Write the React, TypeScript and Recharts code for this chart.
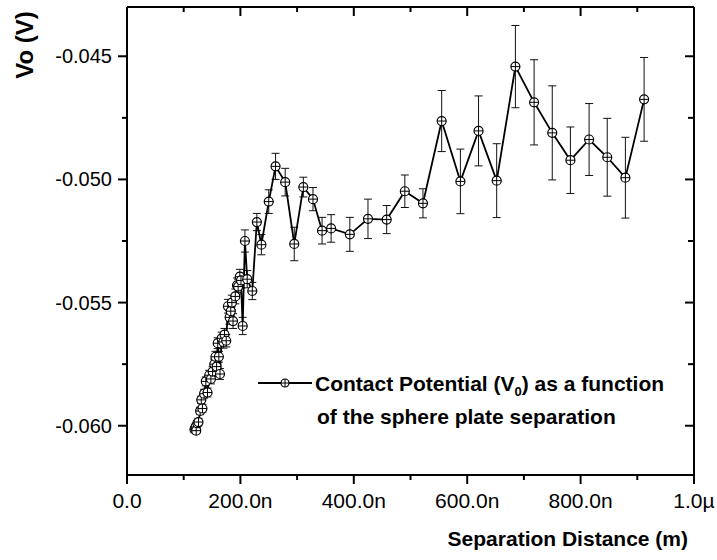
import React from 'react';
import { LineChart, Line, XAxis, YAxis, ErrorBar, Legend } from 'recharts';

// separation distance (nm), contact potential (V) and its error (V)
const separationNm = [
  119, 121, 122, 124, 126, 129, 131, 133, 136, 139, 142, 145, 148, 151, 154, 156, 158, 160, 162, 164,
  167, 170, 172, 175, 178, 181, 183, 185, 187, 191, 194, 196, 199, 201, 204, 208, 212, 221, 229, 237,
  250, 262, 279, 295, 311, 328, 344, 360, 393, 425, 458, 490, 522, 555, 588, 620, 652, 685, 718, 750,
  782, 815, 847, 879, 912,
];
const potentialV = [
  -0.06015, -0.06005, -0.0602, -0.0599, -0.05985, -0.0594, -0.05895, -0.0593, -0.0587, -0.0582,
  -0.05865, -0.05795, -0.0581, -0.0578, -0.0575, -0.0572, -0.0576, -0.05665, -0.0572, -0.0579,
  -0.05645, -0.0566, -0.0563, -0.05655, -0.05515, -0.0556, -0.05535, -0.055, -0.05575, -0.05475,
  -0.0543, -0.05435, -0.05395, -0.0541, -0.05595, -0.0525, -0.05405, -0.05453, -0.05173, -0.05265,
  -0.0509, -0.04947, -0.05011, -0.05262, -0.05031, -0.0508, -0.05208, -0.05199, -0.05223, -0.0516,
  -0.05163, -0.05048, -0.05097, -0.04763, -0.05008, -0.04803, -0.05005, -0.04542, -0.04687, -0.04811,
  -0.04922, -0.04838, -0.0491, -0.04993, -0.04675,
];
const errorV = [
  0.00012, 0.00012, 0.00012, 0.00012, 0.00015, 0.00015, 0.00015, 0.00015, 0.00018, 0.00018,
  0.00018, 0.0002, 0.0002, 0.0002, 0.0002, 0.00022, 0.00022, 0.00022, 0.00022, 0.00022,
  0.00025, 0.00025, 0.00025, 0.00025, 0.00028, 0.00028, 0.00028, 0.0003, 0.0003, 0.0003,
  0.0003, 0.0003, 0.0003, 0.0003, 0.00035, 0.00045, 0.00035, 0.00035, 0.00035, 0.00041,
  0.00048, 0.00053, 0.00056, 0.00068, 0.0004, 0.00047, 0.00054, 0.00056, 0.00069, 0.0008,
  0.00057, 0.00066, 0.00059, 0.00124, 0.00131, 0.00142, 0.0015, 0.00167, 0.00173, 0.00191,
  0.00135, 0.00146, 0.00158, 0.00164, 0.0017,
];

const xTicks = [0, 100, 200, 300, 400, 500, 600, 700, 800, 900, 1000];
const xTickLabels = ['0.0', '', '200.0n', '', '400.0n', '', '600.0n', '', '800.0n', '', '1.0\u00b5'];
const yTicks = [-0.06, -0.0575, -0.055, -0.0525, -0.05, -0.0475, -0.045];
const yTickLabels = ['-0.060', '', '-0.055', '', '-0.050', '', '-0.045'];

const data = separationNm.map((x, i) => ({ x, v: potentialV[i], err: errorV[i] }));

const FONT = '"Liberation Sans", Arial, Helvetica, sans-serif';

const labelFor = (ticks: number[], labels: string[], v: number) => {
  const i = ticks.findIndex((t) => Math.abs(t - v) < 1e-9);
  return i >= 0 ? labels[i] : '';
};

const Marker = ({ cx, cy, r = 4.5 }: { cx: number; cy: number; r?: number }) => (
  <g>
    <circle cx={cx} cy={cy} r={r} fill="#fff" stroke="#000" strokeWidth={1.2} />
    <line x1={cx - r} y1={cy} x2={cx + r} y2={cy} stroke="#000" strokeWidth={1} />
    <line x1={cx} y1={cy - r} x2={cx} y2={cy + r} stroke="#000" strokeWidth={1} />
  </g>
);

const BottomTick = ({ x, y, payload }: any) => {
  const label = labelFor(xTicks, xTickLabels, payload.value);
  return (
    <g>
      <line x1={x} y1={y} x2={x} y2={y + (label ? 9 : 5)} stroke="#000" strokeWidth={2} />
      {label && (
        <text x={x} y={y + 33} textAnchor="middle" fontSize={21} fontFamily={FONT} fill="#000">
          {label}
        </text>
      )}
    </g>
  );
};

const TopTick = ({ x, y, payload }: any) => {
  const major = labelFor(xTicks, xTickLabels, payload.value) !== '';
  return <line x1={x} y1={y} x2={x} y2={y + (major ? 9 : 5)} stroke="#000" strokeWidth={2} />;
};

const LeftTick = ({ x, y, payload }: any) => {
  const label = labelFor(yTicks, yTickLabels, payload.value);
  return (
    <g>
      <line x1={x} y1={y} x2={x - (label ? 9 : 5)} y2={y} stroke="#000" strokeWidth={2} />
      {label && (
        <text x={x - 15} y={y} textAnchor="end" dominantBaseline="central" fontSize={20} fontFamily={FONT} fill="#000">
          {label}
        </text>
      )}
    </g>
  );
};

const RightTick = ({ x, y, payload }: any) => {
  const major = labelFor(yTicks, yTickLabels, payload.value) !== '';
  return <line x1={x} y1={y} x2={x - (major ? 9 : 6)} y2={y} stroke="#000" strokeWidth={2} />;
};

const renderDot = (props: any) => <Marker key={`dot-${props.index}`} cx={props.cx} cy={props.cy} />;

const LegendBox = () => (
  <div
    style={{
      display: 'flex',
      fontFamily: FONT,
      fontWeight: 'bold',
      fontSize: 21,
      lineHeight: '33px',
      color: '#000',
    }}
  >
    <svg width={57} height={33} style={{ flex: 'none' }}>
      <line x1={0} y1={16} x2={54} y2={16} stroke="#000" strokeWidth={1.8} />
      <Marker cx={27} cy={16} r={4} />
    </svg>
    <div style={{ whiteSpace: 'nowrap' }}>
      Contact Potential (V
      <span style={{ fontSize: 13, verticalAlign: -5, lineHeight: 0 }}>0</span>) as a function
      <br />
      <span style={{ paddingLeft: 2 }}>of the sphere plate separation</span>
    </div>
  </div>
);

const App: React.FC = () => {
  return (
    <div style={{ position: 'absolute', left: 0, top: 0 }}>
      <LineChart width={717} height={560} data={data} margin={{ top: 7, right: 23, bottom: 0, left: 0 }}>
        <XAxis
          xAxisId="bottom"
          dataKey="x"
          type="number"
          domain={[0, 1000]}
          ticks={xTicks}
          interval={0}
          height={85}
          tickSize={0}
          tickMargin={0}
          tickLine={false}
          tick={<BottomTick />}
          axisLine={{ stroke: '#000', strokeWidth: 2 }}
          label={{
            content: () => (
              <text x={688} y={546} textAnchor="end" fontSize={21} fontWeight="bold" fontFamily={FONT} fill="#000">
                Separation Distance (m)
              </text>
            ),
          }}
        />
        <XAxis
          xAxisId="top"
          dataKey="x"
          orientation="top"
          type="number"
          domain={[0, 1000]}
          allowDataOverflow
          ticks={xTicks}
          interval={0}
          mirror
          tickSize={0}
          tickMargin={0}
          tickLine={false}
          tick={<TopTick />}
          axisLine={{ stroke: '#000', strokeWidth: 2 }}
        />
        <YAxis
          yAxisId="left"
          type="number"
          domain={[-0.062, -0.043]}
          allowDataOverflow
          ticks={yTicks}
          interval={0}
          width={127}
          tickSize={0}
          tickMargin={0}
          tickLine={false}
          tick={<LeftTick />}
          axisLine={{ stroke: '#000', strokeWidth: 2 }}
          label={{
            content: () => (
              <text
                x={24}
                y={45}
                transform="rotate(-90, 24, 45)"
                textAnchor="middle"
                dominantBaseline="central"
                fontSize={24}
                fontWeight="bold"
                fontFamily={FONT}
                fill="#000"
              >
                Vo (V)
              </text>
            ),
          }}
        />
        <YAxis
          yAxisId="right"
          dataKey="v"
          orientation="right"
          type="number"
          domain={[-0.062, -0.043]}
          allowDataOverflow
          ticks={yTicks}
          interval={0}
          mirror
          tickSize={0}
          tickMargin={0}
          tickLine={false}
          tick={<RightTick />}
          axisLine={{ stroke: '#000', strokeWidth: 2 }}
        />
        <Legend
          layout="vertical"
          align="center"
          verticalAlign="middle"
          wrapperStyle={{ left: 258, top: 367, width: 440 }}
          content={() => <LegendBox />}
        />
        <Line
          xAxisId="bottom"
          yAxisId="left"
          type="linear"
          dataKey="v"
          name="Contact Potential (V0) as a function of the sphere plate separation"
          stroke="#000"
          strokeWidth={1.8}
          dot={renderDot}
          activeDot={false}
          isAnimationActive={false}
        >
          <ErrorBar dataKey="err" direction="y" width={4} stroke="#111" strokeWidth={1} />
        </Line>
      </LineChart>
    </div>
  );
};

export default App;
